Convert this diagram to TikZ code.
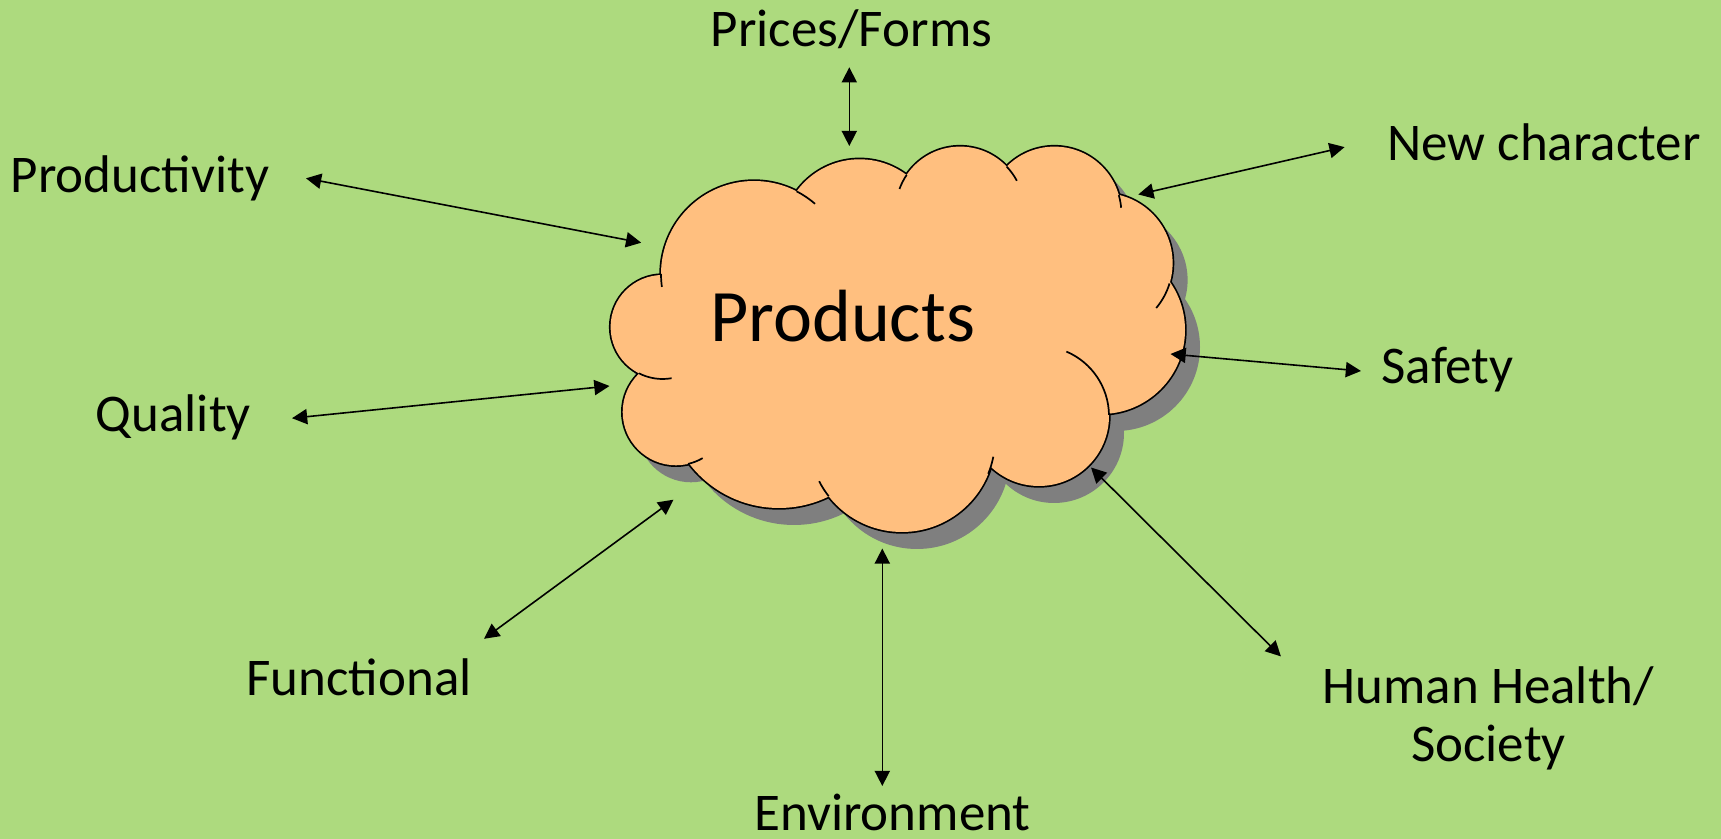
\documentclass[tikz,border=0pt]{standalone}
\usepackage{fontspec}
\setmainfont{Carlito}
\usetikzlibrary{arrows.meta}
\definecolor{bgreen}{HTML}{ADDA7E}
\definecolor{cloudfill}{HTML}{FFBF7F}
\definecolor{shadowgray}{HTML}{7F7F7F}
\begin{document}
\begin{tikzpicture}[x=0.5pt,y=0.5pt,
  lbl/.style={font=\fontsize{26.5pt}{29.2pt}\selectfont, inner sep=0pt, anchor=base, text=black, align=center},
  bigtxt/.style={font=\fontsize{37pt}{40pt}\selectfont, inner sep=0pt, anchor=base, text=black},
  conn/.style={line width=0.8pt, {Triangle[length=7.6pt,width=7.6pt]}-{Triangle[length=7.6pt,width=7.6pt]}},
  hookline/.style={line width=0.85pt},
  rimline/.style={line width=1.7pt}]
\fill[bgreen] (0,0) rectangle (1721,-839);
\useasboundingbox (0,0) rectangle (1721,-839);
\def\lobes{754/274/93, 859.6/237.3/78, 960/211/64.4, 1054.4/213.6/67, 1102.6/263/70, 1101/330/84, 1039/416/70, 902/439/93, 779/395/113, 676/412/53.3, 662.6/327/52}
\def\core{(754,-274) -- (859.6,-237.3) -- (960,-211) -- (1054.4,-213.6) -- (1102.6,-263) -- (1101,-330) -- (1039,-416) -- (902,-439) -- (779,-395) -- (676,-412) -- (662.6,-327) -- cycle}
% shadow
\begin{scope}[shift={(15,-17)}]
  \foreach \cx/\cy/\r in \lobes { \fill[shadowgray] (\cx,-\cy) circle[radius=\r]; }
  \fill[shadowgray] \core;
\end{scope}
% outline
\foreach \cx/\cy/\r in \lobes { \draw[rimline] (\cx,-\cy) circle[radius=\r]; }
% fill
\foreach \cx/\cy/\r in \lobes { \fill[cloudfill] (\cx,-\cy) circle[radius=\r]; }
\fill[cloudfill] \core;
% hooks
\draw[hookline, shift={(754,-274)}] (62.8:93) arc[start angle=62.8, end angle=49, radius=93];
\draw[hookline, shift={(960,-211)}] (146:64.4) arc[start angle=146, end angle=160, radius=64.4];
\draw[hookline, shift={(960,-211)}] (43.6:64.4) arc[start angle=43.6, end angle=28, radius=64.4];
\draw[hookline, shift={(1054.4,-213.6)}] (16:67) arc[start angle=16, end angle=5, radius=67];
\draw[hookline, shift={(1102.6,-263)}] (-17:70) arc[start angle=-17, end angle=-40, radius=70];
\draw[hookline, shift={(1039,-416)}] (67:70) arc[start angle=67, end angle=1, radius=70];
\draw[hookline, shift={(902,-439)}] (-11:93) arc[start angle=-11, end angle=-22, radius=93];
\draw[hookline, shift={(902,-439)}] (207:93) arc[start angle=207, end angle=218, radius=93];
\draw[hookline, shift={(676,-412)}] (-60:53.3) arc[start angle=-60, end angle=-77, radius=53.3];
\draw[hookline, shift={(662.6,-327)}] (-80:52) arc[start angle=-80, end angle=-117, radius=52];
\draw[hookline, shift={(754,-274)}] (188:93) arc[start angle=188, end angle=180, radius=93];
% text
\node[bigtxt] (products) at (842.7,-341.7) {Products};
\node[lbl] (prices) at (851.5,-46.7) {Prices/Forms};
\node[lbl] (newchar) at (1544,-160.7) {New character};
\node[lbl] (productivity) at (139.9,-192.7) {Productivity};
\node[lbl] (safety) at (1447.6,-384) {Safety};
\node[lbl] (quality) at (173.4,-431.3) {Quality};
\node[lbl] (functional) at (359.2,-696) {Functional};
\node[lbl] (health) at (1488.5,-761.7) {Human Health/\\Society};
\node[lbl] (environment) at (892.5,-831) {Environment};
% connector ends
\coordinate (pfA) at (849.3,-67.3);   \coordinate (pfB) at (849.3,-146);
\coordinate (ncA) at (1344.6,-147.1); \coordinate (ncB) at (1138.3,-194.5);
\coordinate (prA) at (306,-178.3);    \coordinate (prB) at (641.2,-242.7);
\coordinate (sfA) at (1361,-371);     \coordinate (sfB) at (1170.5,-354);
\coordinate (quA) at (292,-418.2);    \coordinate (quB) at (609.5,-386);
\coordinate (fuA) at (484,-638.8);    \coordinate (fuB) at (673.5,-499.7);
\coordinate (hhA) at (1280.9,-656.4); \coordinate (hhB) at (1091,-467.5);
\coordinate (enA) at (882.3,-786);    \coordinate (enB) at (882.3,-548.5);
\draw[conn] (pfA) -- (pfB);
\draw[conn] (ncA) -- (ncB);
\draw[conn] (prA) -- (prB);
\draw[conn] (sfA) -- (sfB);
\draw[conn] (quA) -- (quB);
\draw[conn] (fuA) -- (fuB);
\draw[conn] (hhA) -- (hhB);
\draw[conn] (enA) -- (enB);
\end{tikzpicture}
\end{document}
